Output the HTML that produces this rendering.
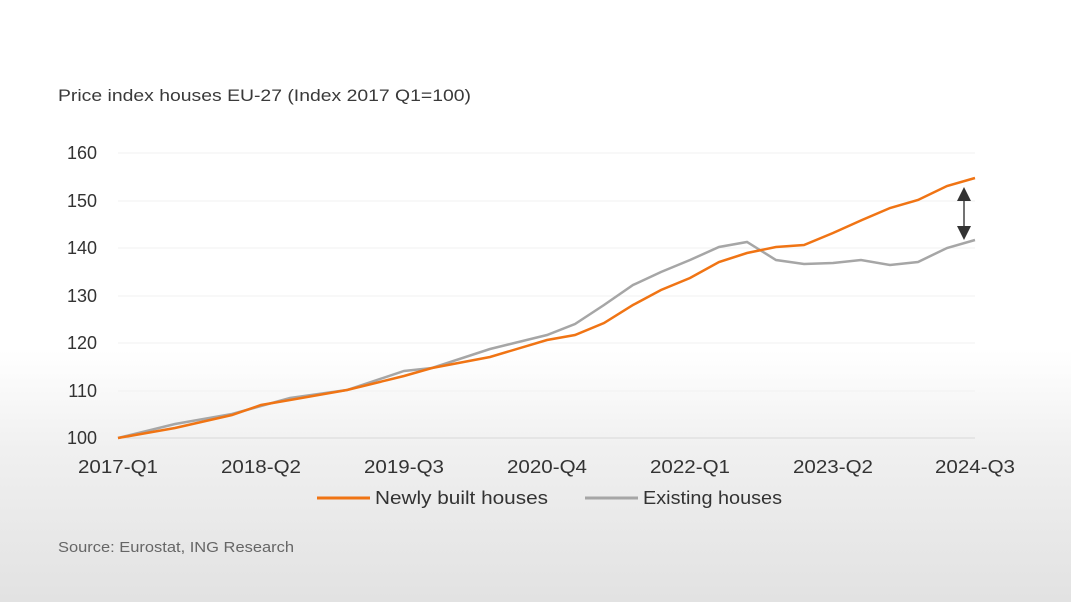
<!DOCTYPE html>
<html><head><meta charset="utf-8"><style>
html,body{margin:0;padding:0}
body{width:1071px;height:602px;overflow:hidden;background:linear-gradient(to bottom,#fff 0px,#fff 350px,#f0f0f0 450px,#e2e2e2 602px);font-family:"Liberation Sans",sans-serif}
</style></head><body>
<svg width="1071" height="602" xmlns="http://www.w3.org/2000/svg" style="position:absolute;left:0;top:0">
<g font-family="Liberation Sans, sans-serif" fill="#333">
<text x="58" y="101" font-size="17" fill="#3a3a3a" textLength="413" lengthAdjust="spacingAndGlyphs">Price index houses EU-27 (Index 2017 Q1=100)</text>
<g font-size="18" text-anchor="end">
<text x="97" y="444">100</text><text x="97" y="397">110</text><text x="97" y="349">120</text>
<text x="97" y="302">130</text><text x="97" y="254">140</text><text x="97" y="207">150</text><text x="97" y="159">160</text>
</g>
<g stroke="#f1f1f1" stroke-width="1">
<line x1="118" x2="975" y1="153" y2="153"/><line x1="118" x2="975" y1="201" y2="201"/><line x1="118" x2="975" y1="248" y2="248"/><line x1="118" x2="975" y1="296" y2="296"/><line x1="118" x2="975" y1="343" y2="343"/><line x1="118" x2="975" y1="391" y2="391"/>
</g>
<line x1="118" x2="975" y1="438" y2="438" stroke="#d8d8d8"/>
<g font-size="18" text-anchor="middle">
<text x="118" y="473" textLength="80" lengthAdjust="spacingAndGlyphs">2017-Q1</text><text x="261" y="473" textLength="80" lengthAdjust="spacingAndGlyphs">2018-Q2</text><text x="404" y="473" textLength="80" lengthAdjust="spacingAndGlyphs">2019-Q3</text><text x="547" y="473" textLength="80" lengthAdjust="spacingAndGlyphs">2020-Q4</text><text x="690" y="473" textLength="80" lengthAdjust="spacingAndGlyphs">2022-Q1</text><text x="833" y="473" textLength="80" lengthAdjust="spacingAndGlyphs">2023-Q2</text><text x="975" y="473" textLength="80" lengthAdjust="spacingAndGlyphs">2024-Q3</text>
</g>
<polyline fill="none" stroke="#a6a6a6" stroke-width="2.5" points="118,438 175,424 232,414 290,398 347,390 404,371 432,368 490,349 547,335 575,324 604,305 633,285 661,272 690,260 719,247 747,242 776,260 804,264 833,263 861,260 890,265 918,262 947,248 975,240"/>
<polyline fill="none" stroke="#f07414" stroke-width="2.5" points="118,438 175,428 232,415 261,405 290,400 347,390 404,376 432,368 490,357 547,340 575,335 604,323 633,305 661,290 690,278 719,262 747,253 776,247 804,245 833,233 862,220 890,208 918,200 947,186 975,178"/>
<line x1="964" y1="195" x2="964" y2="230" stroke="#444" stroke-width="1.5"/>
<polygon points="964,187 957,201 971,201" fill="#333"/>
<polygon points="964,240 957,226 971,226" fill="#333"/>
<line x1="317" y1="498" x2="370" y2="498" stroke="#f07414" stroke-width="3"/>
<text x="375" y="504" font-size="18" textLength="173" lengthAdjust="spacingAndGlyphs">Newly built houses</text>
<line x1="585" y1="498" x2="638" y2="498" stroke="#a6a6a6" stroke-width="3"/>
<text x="643" y="504" font-size="18" textLength="139" lengthAdjust="spacingAndGlyphs">Existing houses</text>
<text x="58" y="552" font-size="15" fill="#666" textLength="236" lengthAdjust="spacingAndGlyphs">Source: Eurostat, ING Research</text>
</g>
</svg>
</body></html>
